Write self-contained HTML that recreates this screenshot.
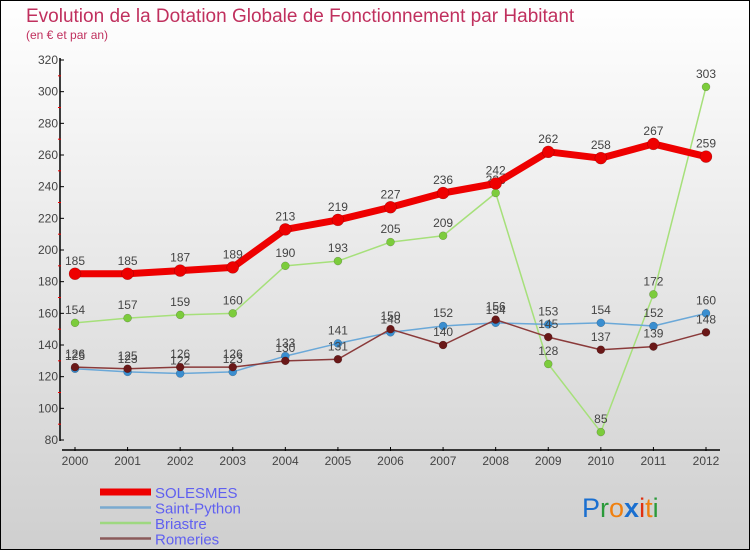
<!DOCTYPE html>
<html><head><meta charset="utf-8"><style>
html,body{margin:0;padding:0}
body{width:750px;height:550px;overflow:hidden;font-family:"Liberation Sans",sans-serif}
</style></head><body>
<svg id="chart" width="750" height="550" xmlns="http://www.w3.org/2000/svg" font-family="Liberation Sans, sans-serif">
<defs><linearGradient id="bg" x1="0" y1="0" x2="0" y2="1"><stop offset="0" stop-color="#ffffff"/><stop offset="1" stop-color="#cfcfcf"/></linearGradient></defs>
<rect x="0.5" y="0.5" width="749" height="549" fill="url(#bg)" stroke="#000"/>
<text x="26" y="22" font-size="19" fill="#c0305e">Evolution de la Dotation Globale de Fonctionnement par Habitant</text>
<text x="26" y="39" font-size="12" fill="#c0305e">(en € et par an)</text>
<g id="axes"></g>
<g id="series"></g>
<g id="legend"></g>
<text x="582" y="517" font-size="27"><tspan fill="#1a6fd0">P</tspan><tspan fill="#2a9a3a">r</tspan><tspan fill="#f08010">o</tspan><tspan fill="#1a6fd0" font-weight="bold">x</tspan><tspan fill="#e03010">i</tspan><tspan fill="#f08010">t</tspan><tspan fill="#2a9a3a">i</tspan></text>
</svg>
<script>
const years = [2000,2001,2002,2003,2004,2005,2006,2007,2008,2009,2010,2011,2012];
const yTicks = [80,100,120,140,160,180,200,220,240,260,280,300,320];
const solesmes = [185,185,187,189,213,219,227,236,242,262,258,267,259];
const saintPython = [125,123,122,123,133,141,148,152,154,153,154,152,160];
const briastre = [154,157,159,160,190,193,205,209,236,128,85,172,303];
const romeries = [126,125,126,126,130,131,150,140,156,145,137,139,148];
const NS="http://www.w3.org/2000/svg";
function X(i){return 75+i*(706-75)/12;}
function Y(v){return 440-(v-80)*(380/240);}
function mk(tag,attrs,parent){const e=document.createElementNS(NS,tag);for(const k in attrs)e.setAttribute(k,attrs[k]);parent.appendChild(e);return e;}
const axes=document.getElementById('axes');
let a=mk('line',{x1:60,y1:58,x2:60,y2:441,stroke:'#000','stroke-width':1.5},axes);


a=mk('line',{x1:62,y1:450,x2:720,y2:450,stroke:'#000','stroke-width':1.5},axes);


yTicks.forEach((v,i)=>{
  const t=mk('line',{x1:60,y1:Y(v),x2:64,y2:Y(v),stroke:'#000'},axes);
  
  
  const l=mk('text',{x:58,y:Y(v)+4,'font-size':12,'text-anchor':'end',fill:'#444'},axes);
  l.textContent=v;
  
  
  if(i<yTicks.length-1){const m=mk('line',{x1:58,y1:Y(v+10),x2:61,y2:Y(v+10),stroke:'#e00'},axes);
  
  }
});
years.forEach((y,i)=>{
  const t=mk('line',{x1:X(i),y1:447,x2:X(i),y2:451,stroke:'#000'},axes);
  
  
  const l=mk('text',{x:X(i),y:465,'font-size':12,'text-anchor':'middle',fill:'#444'},axes);
  l.textContent=y;
  
  
});
const ser=document.getElementById('series');
function draw(vals,name,color,dot,w,r){
  const g=mk('g',{},ser);
  
  
  const p=mk('polyline',{points:vals.map((v,i)=>X(i)+','+Y(v)).join(' '),fill:'none',stroke:color,'stroke-width':w,'stroke-linejoin':'round'},g);
  
  
  vals.forEach((v,i)=>{
    const c=mk('circle',{cx:X(i),cy:Y(v),r:r,fill:dot,stroke:'rgba(0,0,0,0.3)','stroke-width':0.5},g);
    
    
    const t=mk('text',{x:X(i),y:Y(v)-9,'font-size':12,'text-anchor':'middle',fill:'#444'},g);
    t.textContent=v;
    
    
  });
}
draw(briastre,'briastre','#a6e07a','#7ccc3c',1.5,4);
draw(saintPython,'saint-python','#6aa8d8','#3a8ed0',1.5,4);
draw(romeries,'romeries','#8a3a3a','#6a1818',1.5,4);
draw(solesmes,'solesmes','#ee0000','#ee0000',7,6);
const leg=document.getElementById('legend');
const items=[['SOLESMES','#ee0000',7],['Saint-Python','#7aaad0',2.5],['Briastre','#9ed880',2.5],['Romeries','#8a5a5a',2.5]];
items.forEach((it,i)=>{
  const y=492+i*15.5;
  const l=mk('line',{x1:100,y1:y,x2:151,y2:y,stroke:it[1],'stroke-width':it[2]},leg);
  
  
  const t=mk('text',{x:155,y:y+6,'font-size':15,fill:'#6060f0'},leg);
  t.textContent=it[0];
  
  
});
</script>
</body></html>
